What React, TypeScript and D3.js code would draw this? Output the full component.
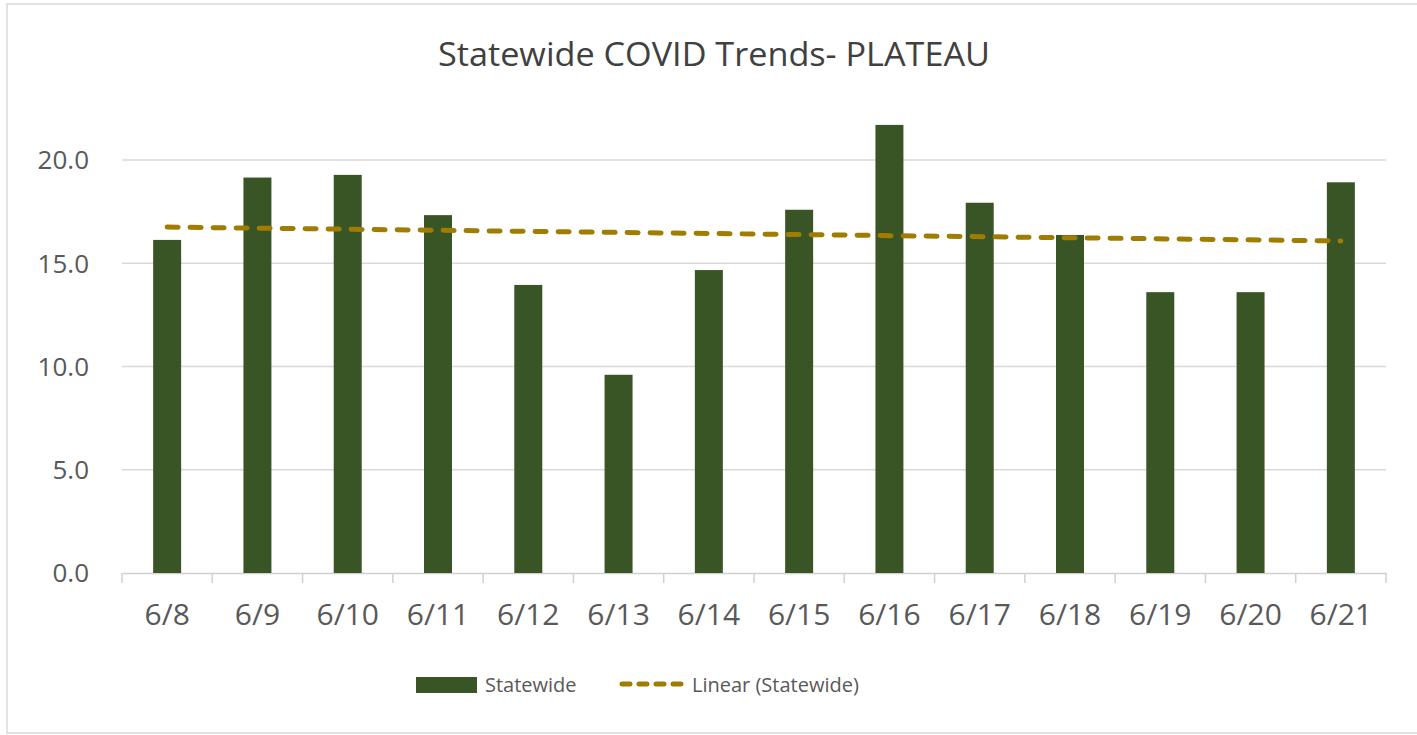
import React, { useEffect, useRef } from "react";
import * as d3 from "d3";

// values
const days = ["6/8", "6/9", "6/10", "6/11", "6/12", "6/13", "6/14", "6/15", "6/16", "6/17", "6/18", "6/19", "6/20", "6/21"];
const statewide = [16.13, 19.15, 19.28, 17.33, 13.95, 9.6, 14.67, 17.59, 21.7, 17.93, 16.37, 13.6, 13.6, 18.92];
const yTicks = [0, 5, 10, 15, 20];

const W = 1417, H = 735;
const barColor = "#3a5525";
const trendColor = "#a07c00";
const textColor = "#595959";
const font = "'Open Sans', sans-serif";

export default function App() {
  const ref = useRef<SVGSVGElement>(null);

  useEffect(() => {
    const svg = d3.select(ref.current);
    svg.selectAll("*").remove();

    const left = 122, right = 1386, top = 160, bottom = 573;

    const x = d3.scaleBand<string>().domain(days).range([left, right]).paddingInner(0).paddingOuter(0);
    const y = d3.scaleLinear().domain([0, 20]).range([bottom, top]);
    const barW = x.bandwidth() * 0.31;

    // frame
    svg.append("rect").attr("x", 7).attr("y", 4).attr("width", W).attr("height", 729)
      .attr("fill", "#fff").attr("stroke", "#d9d9d9").attr("stroke-width", 1.5);

    // title
    svg.append("text").attr("x", 714).attr("y", 66).attr("text-anchor", "middle")
      .attr("font-family", font).attr("font-size", 32).attr("fill", "#404040")
      .attr("textLength", 552).attr("lengthAdjust", "spacingAndGlyphs")
      .text("Statewide COVID Trends- PLATEAU");

    // gridlines
    svg.append("g").selectAll("line").data(yTicks.filter(d => d > 0)).enter().append("line")
      .attr("x1", left).attr("x2", right)
      .attr("y1", d => y(d)).attr("y2", d => y(d))
      .attr("stroke", "#d9d9d9").attr("stroke-width", 1.5);

    // y labels
    svg.append("g").selectAll("text").data(yTicks).enter().append("text")
      .attr("x", 89).attr("y", d => y(d)).attr("dy", "0.36em")
      .attr("text-anchor", "end").attr("font-family", font).attr("font-size", 26)
      .attr("fill", textColor).text(d => d3.format(".1f")(d));

    // x axis
    const xAxis = d3.axisBottom(x).tickSize(0).tickPadding(31);
    const gx = svg.append("g").attr("transform", `translate(0,${bottom})`).call(xAxis);
    gx.select(".domain").attr("stroke", "#d0d0d0").attr("stroke-width", 1.5);
    gx.selectAll("text").attr("font-family", font).attr("font-size", 30).attr("fill", textColor);
    const bounds = days.map(d => x(d) as number).concat([right]);
    gx.selectAll(".sep").data(bounds).enter().append("line").attr("class", "sep")
      .attr("x1", d => d).attr("x2", d => d).attr("y1", 0).attr("y2", 10)
      .attr("stroke", "#d0d0d0").attr("stroke-width", 1.5);

    // bars
    svg.append("g").selectAll("rect").data(statewide).enter().append("rect")
      .attr("x", (d, i) => (x(days[i]) as number) + x.bandwidth() / 2 - barW / 2)
      .attr("y", d => y(d))
      .attr("width", barW)
      .attr("height", d => bottom - y(d))
      .attr("fill", barColor);

    // linear trend (least squares)
    const idx = statewide.map((_, i) => i);
    const mx = d3.mean(idx) as number, my = d3.mean(statewide) as number;
    const slope = d3.sum(idx, i => (i - mx) * (statewide[i] - my)) / d3.sum(idx, i => (i - mx) ** 2);
    const fit = (i: number) => my + slope * (i - mx);
    const cx = (i: number) => (x(days[i]) as number) + x.bandwidth() / 2;
    const n = days.length - 1;
    svg.append("line")
      .attr("x1", cx(0)).attr("y1", y(fit(0)))
      .attr("x2", cx(n)).attr("y2", y(fit(n)))
      .attr("stroke", trendColor).attr("stroke-width", 5)
      .attr("stroke-dasharray", "11 12").attr("stroke-linecap", "round");

    // legend
    const lg = svg.append("g");
    lg.append("rect").attr("x", 416).attr("y", 677).attr("width", 61).attr("height", 16).attr("fill", barColor);
    lg.append("text").attr("x", 485).attr("y", 685).attr("dy", "0.36em")
      .attr("font-family", font).attr("font-size", 20).attr("fill", textColor).text("Statewide");
    lg.append("line").attr("x1", 622).attr("x2", 682).attr("y1", 684).attr("y2", 684)
      .attr("stroke", trendColor).attr("stroke-width", 5)
      .attr("stroke-dasharray", "8 9").attr("stroke-linecap", "round");
    lg.append("text").attr("x", 692).attr("y", 685).attr("dy", "0.36em")
      .attr("font-family", font).attr("font-size", 20).attr("fill", textColor).text("Linear (Statewide)");
  }, []);

  return (
    <svg ref={ref} width={W} height={H}
      style={{ position: "absolute", left: 0, top: 0, display: "block", background: "#fff" }} />
  );
}
